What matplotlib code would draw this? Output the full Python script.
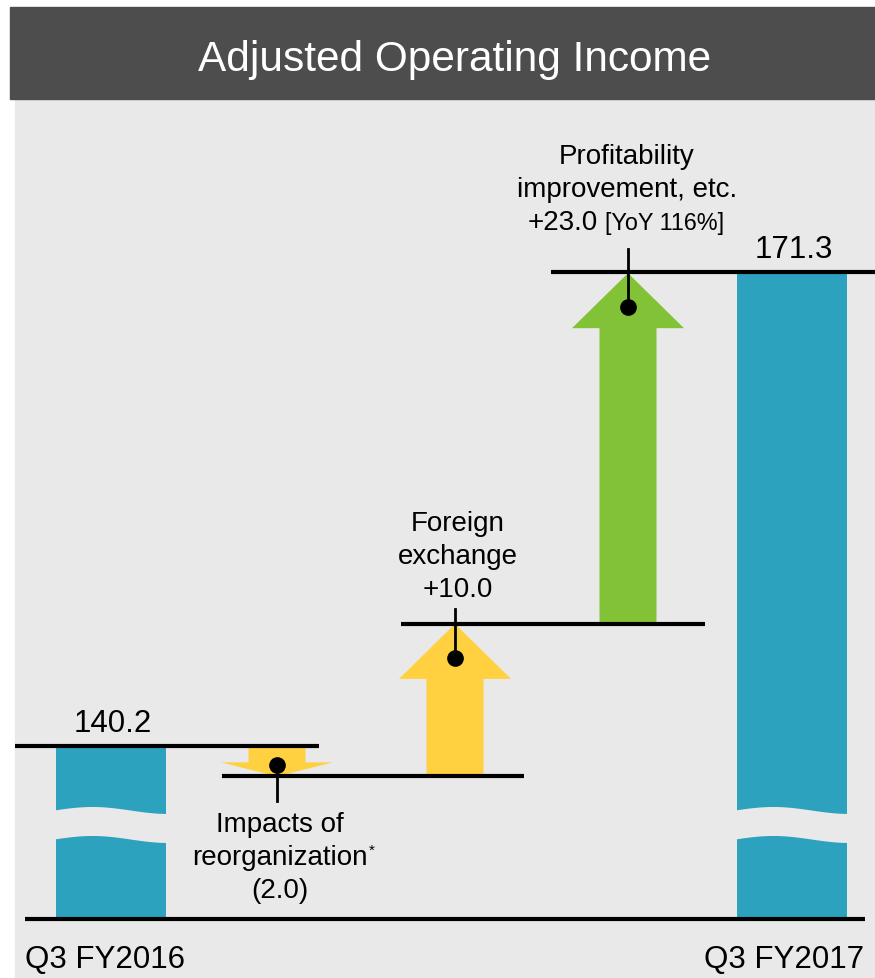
import numpy as np
import matplotlib
matplotlib.use('Agg')
import matplotlib.pyplot as plt
from matplotlib.patches import Rectangle, Polygon

plt.rcParams['font.family'] = ['Liberation Sans', 'DejaVu Sans']

# ---- data ----
title = 'Adjusted Operating Income'
period_labels = ['Q3 FY2016', 'Q3 FY2017']
period_values = [140.2, 171.3]
step_names = ['Impacts of\nreorganization', 'Foreign\nexchange', 'Profitability\nimprovement, etc.']
step_values = [-2.0, 10.0, 23.0]
yoy_note = '[YoY 116%]'

# ---- layout (pixels) ----
W, H = 875, 979
PX = 15.25                      # pixels per unit of income
Y_TOP, Y_BOT = 189.18, 124.98   # value range shown over the figure height
BASE = 128.85                   # broken-axis floor of the bars
X_BARS = [111, 792]
X_STEPS = [277, 455, 628]
LINE_SPANS = [(15, 319), (222, 524), (401, 705), (551, 875)]
LABEL_OFF = [-54.5, 94, 110]    # first baseline of step label vs level (px, up positive)
LEADER_OFF = [-25, 15, 24]

TEAL = '#2CA2BF'
STEP_COLORS = ['#FFD03F', '#FFD03F', '#82C236']
PANEL = '#E9E9E9'
HEADER = '#4D4D4D'


def px(n):
    return n / PX


fig = plt.figure(figsize=(W / 100, H / 100), dpi=100)
fig.patch.set_facecolor('white')
fig.patches.append(Rectangle((15 / W, 0), 1, (H - 100) / H, transform=fig.transFigure,
                             color=PANEL, zorder=-2))
fig.patches.append(Rectangle((10 / W, (H - 100) / H), 1, 92 / H, transform=fig.transFigure,
                             color=HEADER, zorder=-2))
fig.text(455 / W, (H - 71) / H, title, color='white', fontsize=30.5,
         ha='center', va='baseline')

ax = fig.add_axes([0, 0, 1, 1])
ax.set_zorder(1)
ax.set_xlim(0, W)
ax.set_ylim(Y_BOT, Y_TOP)
ax.axis('off')
ax.patch.set_visible(False)

# end bars
ax.bar(X_BARS, [v - BASE for v in period_values], bottom=BASE, width=110,
       color=TEAL, zorder=2)

# wavy break across each bar
t = np.linspace(0, 1, 80)
for cx in X_BARS:
    xs = cx - 57 + t * 114
    upper = BASE + px(109) + px(3.5) * np.sin(1.5 * np.pi * t)
    lower = upper - px(29)
    ax.fill_between(xs, lower, upper, color=PANEL, zorder=3, lw=0)

# levels
levels = [period_values[0]]
for d in step_values:
    levels.append(round(levels[-1] + d, 1))
line_levels = levels[:-1] + [period_values[1]]

for lv, (x0, x1) in zip(line_levels, LINE_SPANS):
    ax.hlines(lv, x0, x1, color='black', lw=3, zorder=5)
ax.hlines(BASE, 25, 865, color='black', lw=3, zorder=5)

# step arrows
for i, (cx, d) in enumerate(zip(X_STEPS, step_values)):
    v0, v1 = levels[i], levels[i + 1]
    sgn = np.sign(d)
    length = abs(d) * PX
    head = min(55, 0.46 * length)
    vb = v1 - sgn * px(head)
    sh, hh = 28.5, 56
    pts = [(cx - sh, v0), (cx - sh, vb), (cx - hh, vb), (cx, v1),
           (cx + hh, vb), (cx + sh, vb), (cx + sh, v0)]
    ax.add_patch(Polygon(pts, closed=True, color=STEP_COLORS[i], lw=0, zorder=4))

    vd = v1 - sgn * px(min(34, 0.36 * length))
    lead_end = v1 + px(LEADER_OFF[i])
    ax.plot([cx, cx], [vd, lead_end], color='black', lw=2, zorder=6)
    ax.plot(cx, vd, 'o', color='black', ms=11, zorder=7)

    val = f'+{d:.1f}' if d > 0 else f'({abs(d):.1f})'
    lines = step_names[i].split('\n')
    first = v1 + px(LABEL_OFF[i])
    if i == 2:
        for k, ln in enumerate(lines):
            ax.text(cx - 1, first - px(33 * k), ln, fontsize=20, ha='center', va='baseline')
        yb = first - px(66)
        ax.text(cx - 30, yb, val, fontsize=20, ha='right', va='baseline')
        ax.text(cx - 23, yb, yoy_note, fontsize=16.8, ha='left', va='baseline')
    else:
        lines = lines + [val]
        for k, ln in enumerate(lines):
            tt = ax.text(cx + 3, first - px(33 * k), ln, fontsize=20,
                         ha='center', va='baseline')
            if ln == 'reorganization':
                ax.annotate('*', xy=(1, 1), xycoords=tt, xytext=(1, 1),
                            textcoords='offset points', fontsize=11,
                            ha='left', va='top')

# end values and period labels
for cx, v in zip(X_BARS, period_values):
    ax.text(cx + 2, v + px(15), f'{v:.1f}', fontsize=22.5, ha='center', va='baseline')

y_lab = Y_TOP - px(968)
ax.text(25, y_lab, period_labels[0], fontsize=22.5, ha='left', va='baseline')
ax.text(864, y_lab, period_labels[1], fontsize=22.5, ha='right', va='baseline')

plt.savefig('out.png', dpi=100)
plt.close(fig)
